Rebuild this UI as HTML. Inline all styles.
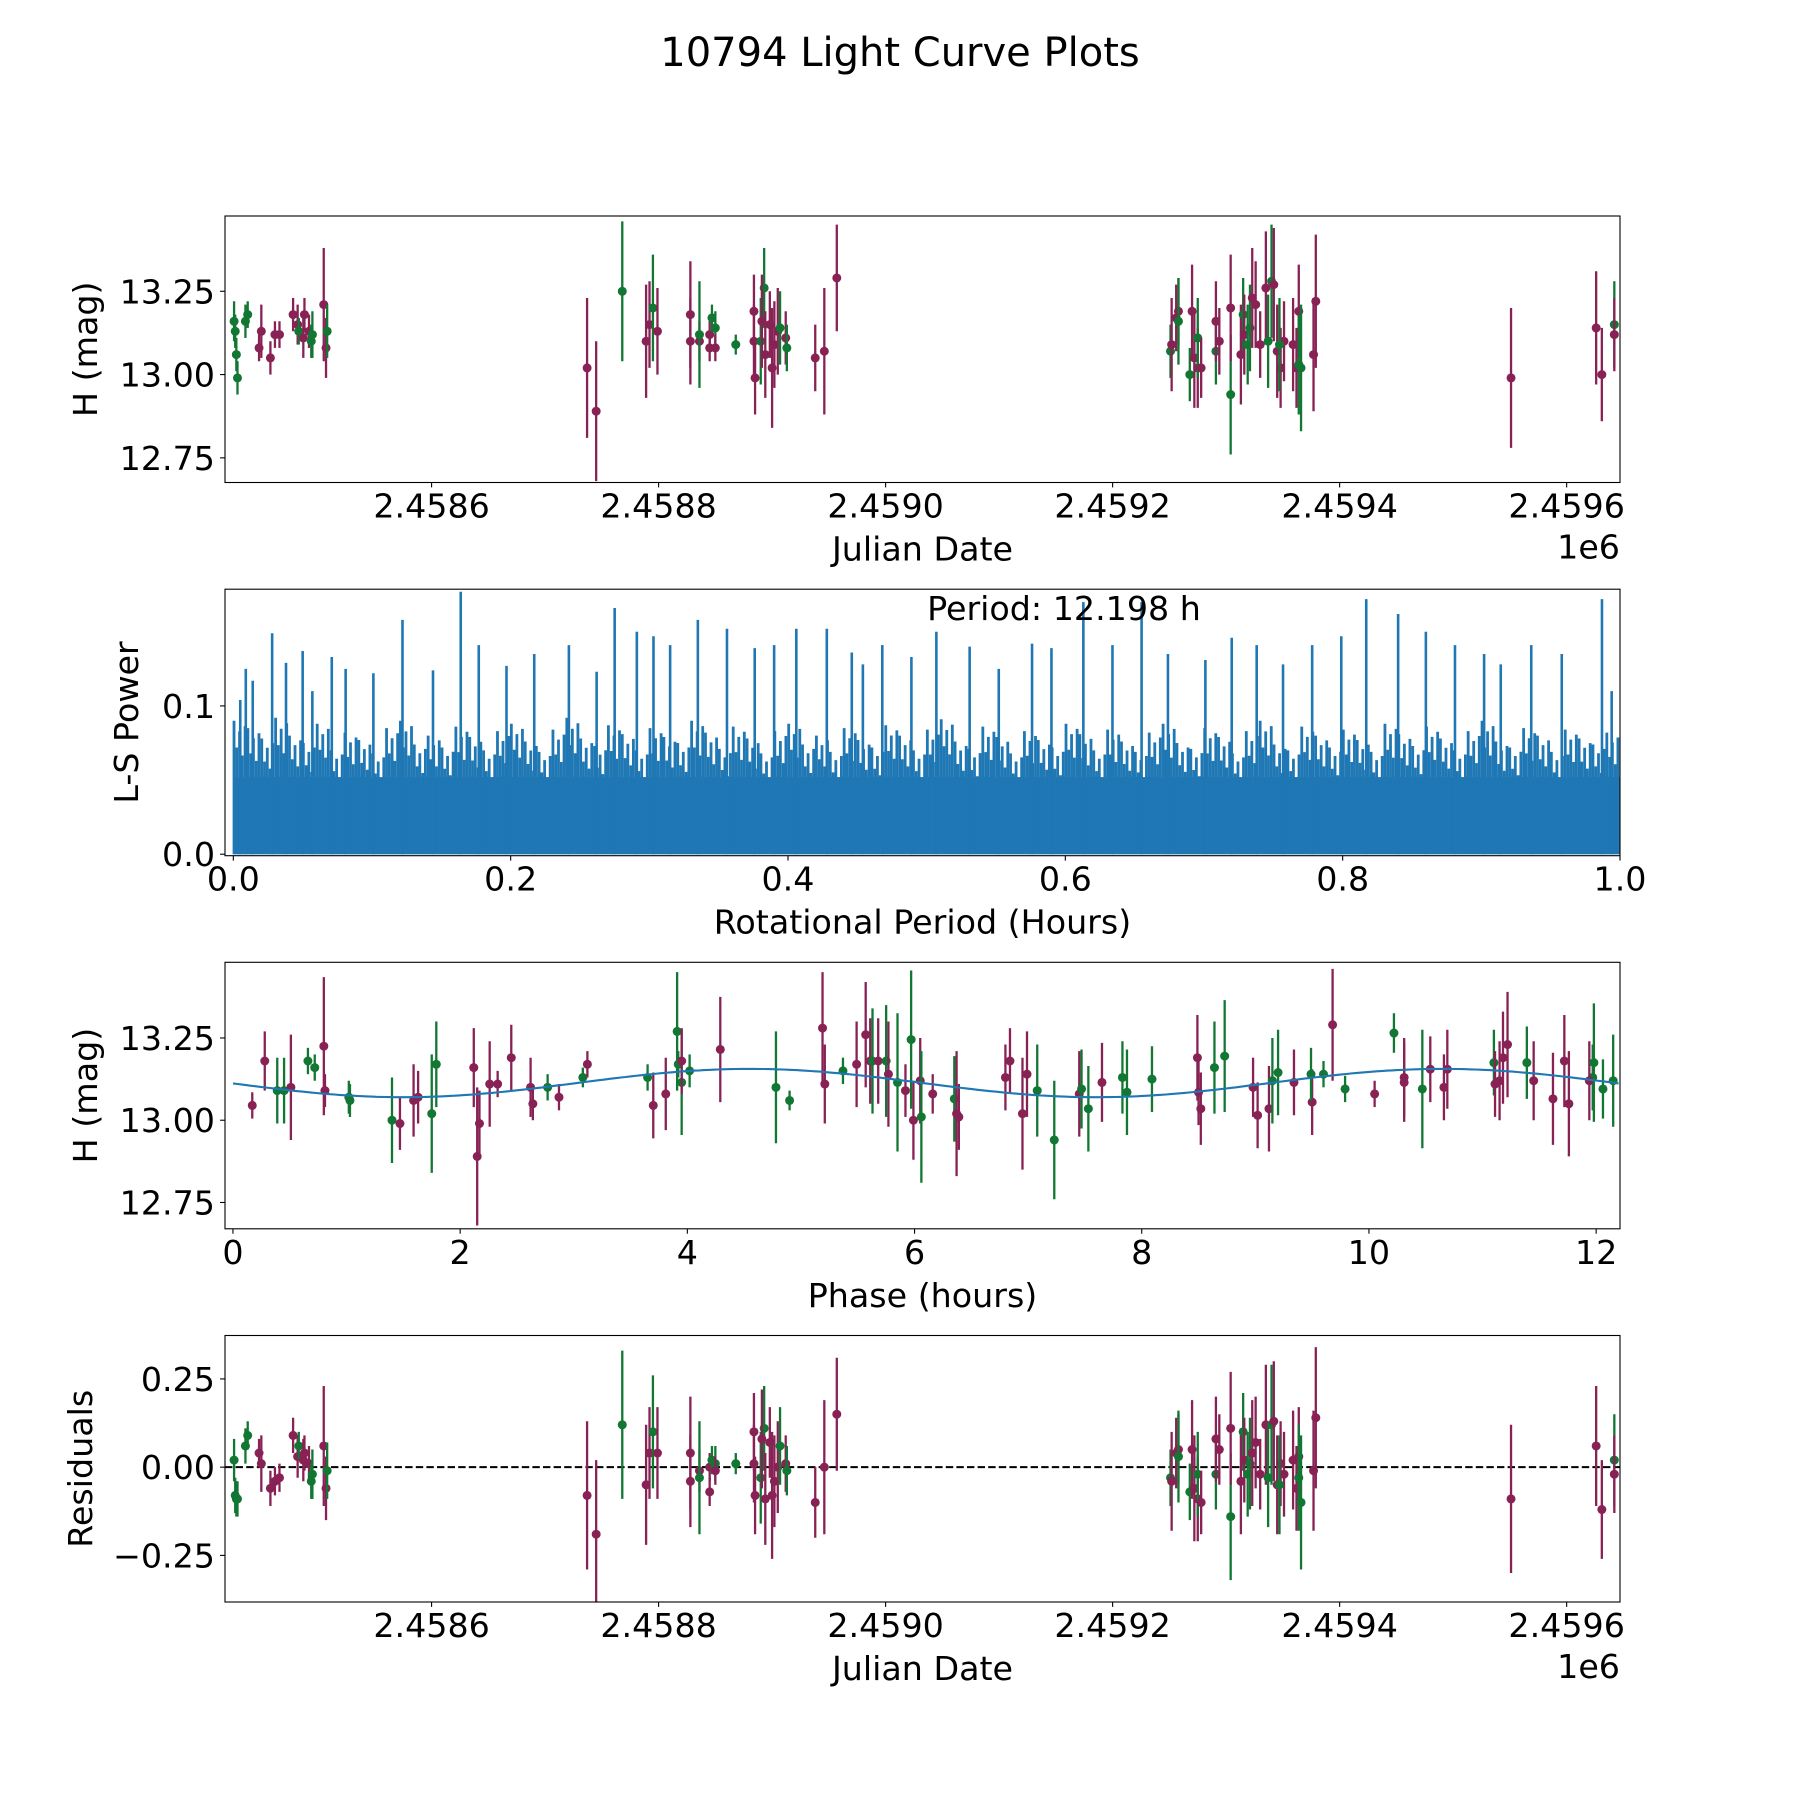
<!DOCTYPE html>
<html><head><meta charset="utf-8"><title>10794 Light Curve Plots</title>
<style>
html,body{margin:0;padding:0;background:#fff;}
svg{display:block;font-family:"DejaVu Sans","Liberation Sans",sans-serif;}
</style></head>
<body>
<svg id="fig" width="1800" height="1800" viewBox="0 0 1800 1800" xmlns="http://www.w3.org/2000/svg">
<rect width="1800" height="1800" fill="#fff"/>
<text x="900" y="66" font-size="40" text-anchor="middle">10794 Light Curve Plots</text>
<defs>
<clipPath id="c0"><rect x="225" y="216" width="1395" height="266.5"/></clipPath>
<clipPath id="c1"><rect x="225" y="589.2" width="1395" height="266.5"/></clipPath>
<clipPath id="c2"><rect x="225" y="962.3" width="1395" height="266.5"/></clipPath>
<clipPath id="c3"><rect x="225" y="1335.5" width="1395" height="266.5"/></clipPath>
</defs>
<g id="layer"></g>
</svg>
<script>
// ---------- Panel 1 / 4 data: light curve (JD) ----------
const jd = [2458426,2458427,2458428,2458429,2458436,2458438,2458448,2458450,2458458,2458462,2458466,2458478,2458482,2458483,2458487,2458488,2458492,2458494,2458495,2458505,2458507,2458508,
2458737,2458745,2458768,2458789,2458792,2458795,2458799,2458828,2458828,2458836,2458836,2458845,2458845,2458847,2458850,2458850,2458868,2458884,2458884,2458885,2458890,2458893,2458891,2458894,2458898,2458900,2458902,2458905,2458907,2458912,2458913,2458938,2458946,2458957,
2459251,2459252,2459256,2459258,2459258,2459268,2459270,2459272,2459275,2459275,2459278,2459291,2459291,2459294,2459304,2459304,2459313,2459315,2459316,2459319,2459321,2459323,2459326,2459330,2459335,2459337,2459340,2459342,2459345,2459348,2459351,2459347,2459359,2459362,2459364,2459364,2459366,2459377,2459379,
2459551,2459626,2459631,2459642,2459642];
const mag = [13.16,13.13,13.06,12.99,13.16,13.18,13.08,13.13,13.05,13.12,13.12,13.18,13.15,13.13,13.11,13.18,13.13,13.10,13.12,13.21,13.08,13.13,
13.02,12.89,13.25,13.10,13.15,13.20,13.13,13.18,13.10,13.10,13.12,13.12,13.08,13.17,13.14,13.08,13.09,13.19,13.10,12.99,13.10,13.26,13.16,13.06,13.15,13.02,13.09,13.13,13.14,13.11,13.08,13.05,13.07,13.29,
13.07,13.09,13.17,13.19,13.16,13.00,13.19,13.05,13.02,13.11,13.02,13.07,13.16,13.10,12.94,13.20,13.06,13.18,13.12,13.09,13.14,13.23,13.21,13.09,13.26,13.10,13.28,13.27,13.07,13.02,13.10,13.09,13.09,13.02,13.19,13.03,13.02,13.06,13.22,
12.99,13.14,13.00,13.15,13.12];
const magErr = [.06,.05,.05,.05,.05,.04,.04,.08,.05,.04,.04,.05,.06,.04,.06,.05,.05,.05,.07,.17,.09,.08,
.21,.21,.21,.17,.13,.16,.13,.16,.13,.06,.16,.04,.04,.04,.05,.04,.03,.11,.11,.11,.13,.12,.14,.13,.10,.18,.13,.13,.11,.08,.07,.10,.19,.16,
.08,.14,.10,.10,.13,.08,.14,.15,.12,.12,.09,.10,.12,.10,.18,.16,.15,.11,.12,.12,.13,.15,.13,.10,.17,.14,.17,.17,.14,.12,.12,.14,.14,.12,.14,.15,.19,.17,.20,
.21,.17,.14,.13,.11];
const band = ["g","g","g","g","g","g","p","p","p","p","p","p","p","g","p","p","p","g","g","p","p","g",
"p","p","g","p","p","g","p","p","p","p","g","p","p","g","g","p","g","p","p","p","g","g","p","p","p","p","p","p","g","p","g","p","p","p",
"g","p","p","p","g","g","p","p","p","g","p","g","p","p","g","p","p","g","p","g","g","p","p","p","p","g","g","p","p","p","p","g","p","p","p","g","g","p","p",
"p","p","p","g","p"];
const resid = [.02,-.08,-.09,-.09,.06,.09,.04,.01,-.06,-.04,-.03,.09,.03,.06,.02,.04,.01,-.04,-.02,.06,-.06,-.01,
-.08,-.19,.12,-.05,.04,.10,.04,.04,-.04,-.01,-.03,.00,-.07,.02,.01,-.01,.01,.10,.01,-.08,-.03,.11,.08,-.09,.07,-.08,-.04,.00,.06,.01,-.01,-.10,.00,.15,
-.03,-.04,.04,.05,.03,-.07,.05,-.06,-.09,-.02,-.10,-.02,.08,.05,-.14,.11,-.04,.10,.02,-.02,.01,.04,.07,-.02,.12,-.03,.12,.13,-.05,.01,-.02,-.05,.02,-.06,.03,-.03,-.10,-.01,.14,
-.09,.06,-.12,.02,-.02];

// ---------- Panel 2 data: periodogram ----------
const lsPeakX = [0.005,0.009,0.014,0.028,0.038,0.050,0.057,0.071,0.081,0.101,0.122,0.144,0.164,0.177,0.197,0.217,0.242,0.262,0.275,0.291,0.303,0.315,0.335,0.356,0.376,0.390,0.406,0.428,0.446,0.454,0.468,0.489,0.507,0.531,0.552,0.576,0.590,0.613,0.634,0.655,0.674,0.701,0.720,0.738,0.757,0.778,0.799,0.817,0.840,0.860,0.881,0.902,0.914,0.936,0.958,0.987,0.994];
const lsPeakP = [0.104,0.125,0.117,0.149,0.129,0.137,0.110,0.133,0.125,0.122,0.158,0.124,0.177,0.141,0.127,0.135,0.141,0.123,0.166,0.150,0.147,0.141,0.158,0.152,0.139,0.141,0.152,0.152,0.136,0.128,0.141,0.133,0.150,0.140,0.125,0.142,0.139,0.170,0.141,0.170,0.135,0.131,0.146,0.141,0.128,0.141,0.147,0.172,0.162,0.150,0.141,0.135,0.128,0.141,0.135,0.172,0.110];
const lsEnv = [0.090,0.085,0.078,0.092,0.080,0.075,0.088,0.070,0.082,0.077,0.068,0.085,0.090,0.074,0.080,0.072,0.086,0.079,0.070,0.083,0.088,0.076,0.069,0.084,0.092,0.078,0.073,0.087,0.081,0.070,0.085,0.079,0.075,0.090,0.082,0.071,0.086,0.078,0.068,0.083,0.088,0.074,0.080,0.069,0.085,0.077,0.072,0.087,0.080,0.070,0.084,0.091,0.076,0.071,0.086,0.079,0.068,0.083,0.077,0.072,0.088,0.081,0.070,0.084,0.076,0.069,0.082,0.088,0.075,0.071,0.085,0.079,0.068,0.083,0.090,0.074,0.070,0.086,0.080,0.072,0.084,0.077,0.069,0.088,0.081,0.073,0.086,0.078,0.070,0.083,0.090,0.076,0.072,0.085,0.080,0.069,0.084,0.078,0.074,0.082];
const periodLabel = "Period: 12.198 h";

// ---------- Panel 3 data: phased curve ----------
const phase = [0.17,0.28,0.39,0.45,0.51,0.66,0.72,0.80,0.81,1.02,1.03,1.40,1.47,1.59,1.63,1.75,1.79,2.12,2.15,2.17,2.26,2.33,2.45,2.62,2.64,2.77,2.87,3.08,3.12,3.65,3.70,3.81,3.91,3.92,3.95,3.95,4.02,4.29,4.78,4.90,5.19,5.21,5.37,5.49,5.57,5.61,5.63,5.68,5.75,5.77,5.85,5.92,5.97,5.99,6.05,6.06,6.16,6.35,6.37,6.39,6.80,6.84,6.95,6.99,7.08,7.23,7.45,7.47,7.53,7.65,7.83,7.87,8.09,8.49,8.52,8.50,8.64,8.73,8.98,9.02,9.12,9.15,9.20,9.34,9.50,9.49,9.60,9.68,9.79,10.05,10.22,10.31,10.31,10.47,10.54,10.66,10.69,11.10,11.11,11.15,11.18,11.22,11.39,11.45,11.62,11.72,11.76,11.97,11.94,11.98,12.06,12.15];
const phMag = [13.045,13.18,13.09,13.09,13.10,13.18,13.16,13.225,13.09,13.07,13.06,13.0,12.99,13.06,13.07,13.02,13.17,13.16,12.89,12.99,13.11,13.11,13.19,13.10,13.05,13.10,13.07,13.13,13.17,13.13,13.045,13.08,13.27,13.17,13.115,13.18,13.15,13.215,13.10,13.06,13.28,13.11,13.15,13.17,13.26,13.18,13.18,13.18,13.18,13.14,13.115,13.09,13.245,13.0,13.12,13.01,13.08,13.065,13.02,13.01,13.13,13.18,13.02,13.14,13.09,12.94,13.08,13.095,13.035,13.115,13.13,13.085,13.125,13.19,13.035,13.085,13.16,13.195,13.10,13.015,13.035,13.12,13.145,13.115,13.055,13.14,13.14,13.29,13.095,13.08,13.265,13.13,13.115,13.095,13.155,13.10,13.155,13.175,13.11,13.12,13.19,13.23,13.175,13.12,13.065,13.18,13.05,13.13,13.12,13.175,13.095,13.12];
const phErr = [.04,.09,.1,.1,.16,.04,.04,.21,.05,.05,.05,.13,.08,.11,.08,.18,.13,.12,.21,.1,.13,.04,.1,.09,.05,.04,.04,.03,.04,.04,.1,.11,.18,.04,.16,.1,.05,.16,.17,.03,.17,.12,.04,.13,.16,.13,.16,.13,.17,.16,.21,.08,.21,.12,.13,.2,.06,.13,.19,.1,.1,.1,.17,.13,.14,.18,.13,.12,.13,.12,.11,.13,.1,.13,.11,.1,.14,.17,.09,.1,.13,.13,.13,.1,.1,.08,.04,.17,.04,.04,.06,.12,.12,.18,.1,.1,.12,.1,.1,.12,.14,.16,.11,.12,.14,.14,.16,.1,.12,.18,.09,.14];
const phBand = ["p","p","g","g","p","g","g","p","p","g","g","g","p","p","p","g","g","p","p","p","p","p","p","p","p","g","p","g","p","g","p","p","g","g","g","p","g","p","g","g","p","p","g","p","p","p","g","p","g","p","g","p","g","p","p","g","p","g","p","p","p","p","p","p","g","g","p","g","g","p","g","g","g","p","p","p","g","g","p","p","p","g","g","p","p","g","g","p","g","p","g","p","p","g","p","p","p","g","p","p","p","p","g","p","p","p","p","g","p","g","g","g"];
const modelMean = 13.113, modelAmp = 0.043, modelPeak = 4.55, rotPeriod = 12.198;

// ---------- Axis ticks ----------
const jdTicks = [2458600,2458800,2459000,2459200,2459400,2459600];
const jdTickLabels = ["2.4586","2.4588","2.4590","2.4592","2.4594","2.4596"];
const magTicks = [12.75,13.00,13.25];
const magTickLabels = ["12.75","13.00","13.25"];
const lsXTicks = [0,0.2,0.4,0.6,0.8,1.0];
const lsXTickLabels = ["0.0","0.2","0.4","0.6","0.8","1.0"];
const lsYTicks = [0,0.1];
const lsYTickLabels = ["0.0","0.1"];
const phTicks = [0,2,4,6,8,10,12];
const phTickLabels = ["0","2","4","6","8","10","12"];
const resTicks = [-0.25,0,0.25];
const resTickLabels = ["\u22120.25","0.00","0.25"];

const NS = "http://www.w3.org/2000/svg";
const layer = document.getElementById("layer");
const COL = {p:"#882255", g:"#117733"};
const FS = 33.3;
function mk(tag, attrs, parent){
  const e = document.createElementNS(NS, tag);
  for (const k in attrs) e.setAttribute(k, attrs[k]);
  (parent||layer).appendChild(e);
  return e;
}
const L = 225, W = 1395, H = 266.5;
const panels = [
  {top:216,   x0:2458418, x1:2459647, y0:12.676, y1:13.476},
  {top:589.2, x0:-0.006,  x1:1.0,     y0:-0.001, y1:0.1787},
  {top:962.3, x0:-0.07,   x1:12.21,   y0:12.67,  y1:13.48},
  {top:1335.5,x0:2458418, x1:2459647, y0:-0.382, y1:0.373}
];
function sx(i,v){const p=panels[i];return L+(v-p.x0)/(p.x1-p.x0)*W;}
function sy(i,v){const p=panels[i];return p.top+H-(v-p.y0)/(p.y1-p.y0)*H;}

function axes(i, name, xt, xl, yt, yl, xlabel, ylabel, ylabX, offset){
  const p = panels[i];
  const g = mk("g", {});
  
  
  const xa = mk("g", {}, g);
  
  
  xt.forEach((v,k)=>{
    const x = sx(i,v);
    mk("line",{x1:x,x2:x,y1:p.top+H,y2:p.top+H+4.9,stroke:"#000","stroke-width":1.1},xa);
    const t = mk("text",{x:x,y:p.top+H+35,"font-size":FS,"text-anchor":"middle"},xa);
    t.textContent = xl[k];
    
    
  });
  const ya = mk("g", {}, g);
  
  
  yt.forEach((v,k)=>{
    const y = sy(i,v);
    mk("line",{x1:L-4.9,x2:L,y1:y,y2:y,stroke:"#000","stroke-width":1.1},ya);
    const t = mk("text",{x:L-10,y:y+12,"font-size":FS,"text-anchor":"end"},ya);
    t.textContent = yl[k];
    
    
  });
  const xt2 = mk("text",{x:L+W/2,y:p.top+H+78,"font-size":FS,"text-anchor":"middle"},g);
  xt2.textContent = xlabel;
  
  
  const cy = p.top+H/2;
  const yt2 = mk("text",{x:ylabX,y:cy,"font-size":FS,"text-anchor":"middle",transform:"rotate(-90 "+ylabX+" "+cy+")"},g);
  yt2.textContent = ylabel;
  
  
  if (offset){
    const o = mk("text",{x:L+W,y:p.top+H+76,"font-size":FS,"text-anchor":"end"},g);
    o.textContent = offset;
    
    
  }
  return g;
}
function frame(i){
  const r = mk("rect",{x:L,y:panels[i].top,width:W,height:H,fill:"none",stroke:"#000","stroke-width":1.1});
  
  
}
function errpoints(i, xs, ys, es, cs, name){
  const g = mk("g",{"clip-path":"url(#c"+i+")"});
  
  
  xs.forEach((xv,k)=>{
    const x = sx(i,xv), c = COL[cs[k]];
    const ln = mk("line",{x1:x,x2:x,y1:sy(i,ys[k]-es[k]),y2:sy(i,ys[k]+es[k]),stroke:c,"stroke-width":2.3},g);
    
    
    const pt = mk("circle",{cx:x,cy:sy(i,ys[k]),r:4.5,fill:c},g);
    
    
  });
}

// Panel 1
axes(0,"light-curve-panel",jdTicks,jdTickLabels,magTicks,magTickLabels,"Julian Date","H (mag)",97,"1e6");
errpoints(0,jd,mag,magErr,band,"light-curve-points");
frame(0);

// Panel 2
axes(1,"periodogram-panel",lsXTicks,lsXTickLabels,lsYTicks,lsYTickLabels,"Rotational Period (Hours)","L-S Power",138,null);
(function(){
  const g = mk("g",{"clip-path":"url(#c1)"});
  
  
  const x0 = sx(1,0), x1 = sx(1,1), yb = sy(1,0);
  const base = mk("rect",{x:x0,y:sy(1,0.052),width:x1-x0,height:yb-sy(1,0.052),fill:"#1f77b4"},g);
  
  
  const n = lsEnv.length;
  lsEnv.forEach((v,k)=>{
    for (let j=0;j<5;j++){
      const fx = (k + j/5 + 0.05)/n;
      const h = v*[1,0.8,0.92,0.74,0.96][j];
      const x = sx(1,fx);
      const l = mk("line",{x1:x,x2:x,y1:yb,y2:sy(1,h),stroke:"#1f77b4","stroke-width":2.8},g);
      
      
    }
  });
  lsPeakX.forEach((v,k)=>{
    const x = sx(1,v);
    const l = mk("line",{x1:x,x2:x,y1:yb,y2:sy(1,lsPeakP[k]),stroke:"#1f77b4","stroke-width":2.6},g);
    
    
  });
  const t = mk("text",{x:1064,y:620,"font-size":FS,"text-anchor":"middle"});
  t.textContent = periodLabel;
  
  
})();
frame(1);

// Panel 3
axes(2,"phased-curve-panel",phTicks,phTickLabels,magTicks,magTickLabels,"Phase (hours)","H (mag)",97,null);
errpoints(2,phase,phMag,phErr,phBand,"phased-points");
(function(){
  let d = "";
  for (let k=0;k<=300;k++){
    const ph = rotPeriod*k/300;
    const v = modelMean + modelAmp*Math.cos(2*Math.PI*2*(ph-modelPeak)/rotPeriod);
    d += (k?"L":"M") + sx(2,ph).toFixed(1) + " " + sy(2,v).toFixed(1);
  }
  const p = mk("path",{d:d,fill:"none",stroke:"#1f77b4","stroke-width":2.1,"clip-path":"url(#c2)"});
  
  
})();
frame(2);

// Panel 4
axes(3,"residuals-panel",jdTicks,jdTickLabels,resTicks,resTickLabels,"Julian Date","Residuals",92,"1e6");
(function(){
  const y = sy(3,0);
  const l = mk("line",{x1:L,x2:L+W,y1:y,y2:y,stroke:"#000","stroke-width":2,"stroke-dasharray":"7.4,3.2"});
  
  
})();
errpoints(3,jd,resid,magErr,band,"residual-points");
frame(3);
</script>
</body></html>
